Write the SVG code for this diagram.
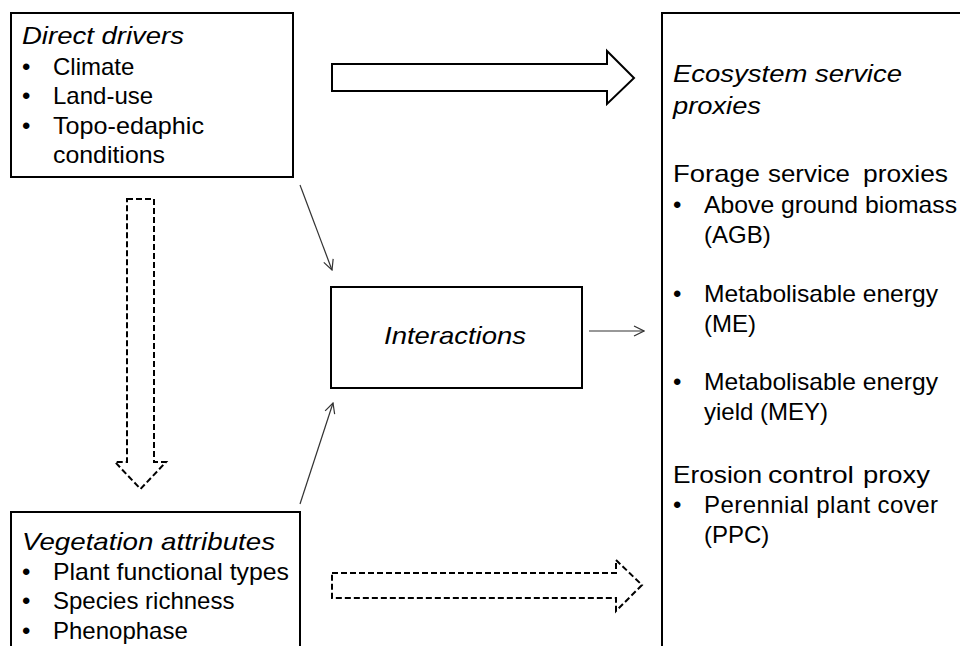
<svg xmlns="http://www.w3.org/2000/svg" width="960" height="646" viewBox="0 0 960 646">
<style>
text{font-family:"Liberation Sans",Arial,sans-serif;font-size:24px;fill:#000}
.it{font-style:italic}
.box{fill:#fff;stroke:#000;stroke-width:2}
.blk{fill:#fff;stroke:#000;stroke-width:2;stroke-linejoin:miter}
.dash{fill:#fff;stroke:#000;stroke-width:2;stroke-dasharray:6,3}
.thin{fill:none;stroke:#333;stroke-width:1.2}
</style>
<defs>
<marker id="ah" viewBox="0 0 12 12" refX="11" refY="6" markerWidth="12" markerHeight="12" markerUnits="userSpaceOnUse" orient="auto">
<path d="M1,1 L11,6 L1,11" fill="none" stroke="#333" stroke-width="1.2"/>
</marker>
</defs>
<rect width="960" height="646" fill="#fff"/>
<g id="direct-drivers">
<rect class="box" x="11" y="13" width="282" height="164"/>
<text class="it" x="22" y="44" textLength="162" lengthAdjust="spacingAndGlyphs">Direct drivers</text>
<text x="22" y="75">•</text><text x="53" y="75">Climate</text>
<text x="22" y="104">•</text><text x="53" y="104">Land-use</text>
<text x="22" y="134">•</text><text x="53" y="134" textLength="151" lengthAdjust="spacingAndGlyphs">Topo-edaphic</text>
<text x="53" y="163" textLength="112" lengthAdjust="spacingAndGlyphs">conditions</text>
</g>
<g id="interactions">
<rect class="box" x="331" y="287" width="251" height="101"/>
<text class="it" x="384" y="344" textLength="142" lengthAdjust="spacingAndGlyphs">Interactions</text>
</g>
<g id="vegetation-attributes">
<rect class="box" x="11" y="512" width="289" height="150"/>
<text class="it" x="22" y="550" textLength="253" lengthAdjust="spacingAndGlyphs">Vegetation attributes</text>
<text x="22" y="580">•</text><text x="53" y="580" textLength="236" lengthAdjust="spacingAndGlyphs">Plant functional types</text>
<text x="22" y="609">•</text><text x="53" y="609">Species richness</text>
<text x="22" y="639">•</text><text x="53" y="639">Phenophase</text>
</g>
<g id="ecosystem-service-proxies">
<rect class="box" x="662" y="13" width="310" height="650"/>
<text class="it" x="673" y="82" textLength="229" lengthAdjust="spacingAndGlyphs">Ecosystem service</text>
<text class="it" x="673" y="114" textLength="88" lengthAdjust="spacingAndGlyphs">proxies</text>
<text x="673" y="182"><tspan x="673" textLength="87" lengthAdjust="spacingAndGlyphs">Forage</tspan><tspan x="768" textLength="82" lengthAdjust="spacingAndGlyphs">service</tspan><tspan x="863" textLength="85" lengthAdjust="spacingAndGlyphs">proxies</tspan></text>
<text x="673" y="213">•</text><text x="704" y="213" textLength="253" lengthAdjust="spacingAndGlyphs">Above ground biomass</text>
<text x="704" y="243">(AGB)</text>
<text x="673" y="302">•</text><text x="704" y="302" textLength="234" lengthAdjust="spacingAndGlyphs">Metabolisable energy</text>
<text x="704" y="332">(ME)</text>
<text x="673" y="390">•</text><text x="704" y="390" textLength="234" lengthAdjust="spacingAndGlyphs">Metabolisable energy</text>
<text x="704" y="420">yield (MEY)</text>
<text x="673" y="483"><tspan x="673" textLength="89" lengthAdjust="spacingAndGlyphs">Erosion</tspan><tspan x="768" textLength="86" lengthAdjust="spacingAndGlyphs">control</tspan><tspan x="863" textLength="67" lengthAdjust="spacingAndGlyphs">proxy</tspan></text>
<text x="673" y="513">•</text><text x="704" y="513" textLength="234" lengthAdjust="spacing">Perennial plant cover</text>
<text x="704" y="543">(PPC)</text>
</g>
<g id="connectors">
<polygon class="blk" points="332,64 607,64 607,51 634,78 607,104 607,91 332,91"/>
<polygon class="dash" points="332,573 616,573 616,560 642,585 616,611 616,598 332,598"/>
<polygon class="dash" points="127,199 154,199 154,462 166,462 140.5,489 115,462 127,462"/>
<line class="thin" x1="300" y1="185" x2="332" y2="270" marker-end="url(#ah)"/>
<line class="thin" x1="589" y1="331" x2="644" y2="331" marker-end="url(#ah)"/>
<line class="thin" x1="300" y1="504" x2="333" y2="403" marker-end="url(#ah)"/>
</g>
</svg>
